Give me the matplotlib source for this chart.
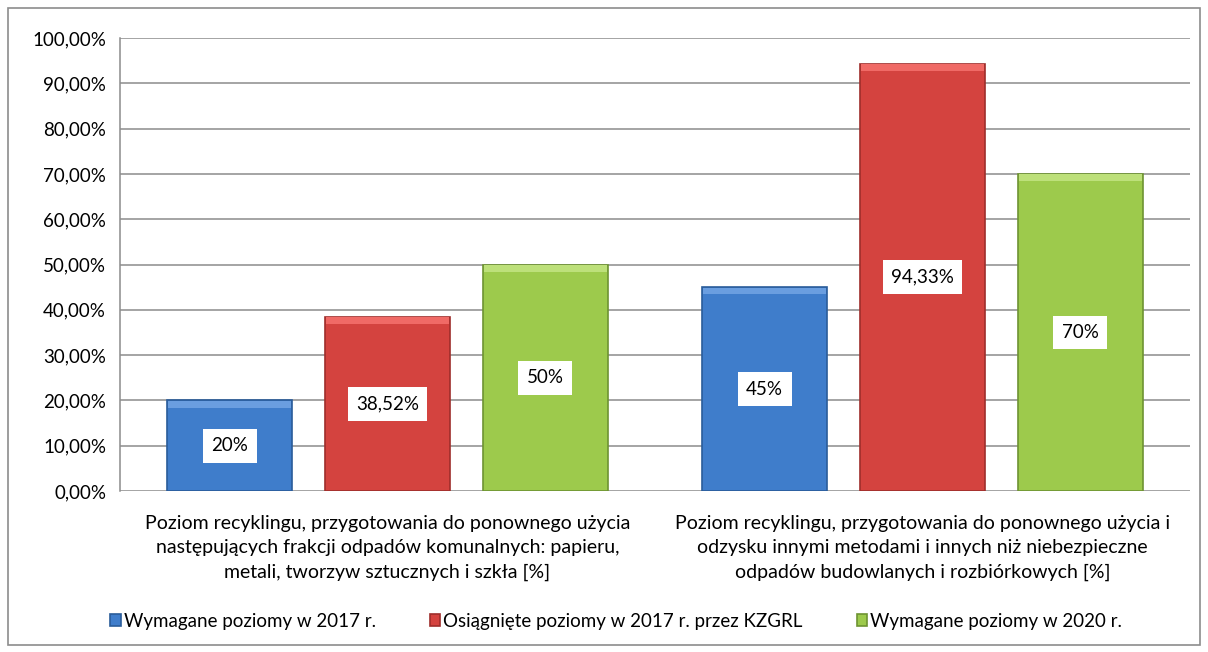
import matplotlib
matplotlib.use("Agg")
import matplotlib.pyplot as plt
import numpy as np
from matplotlib.patches import Rectangle

categories = [
    "Poziom recyklingu, przygotowania do ponownego użycia\nnastępujących frakcji odpadów komunalnych: papieru,\nmetali, tworzyw sztucznych i szkła [%]",
    "Poziom recyklingu, przygotowania do ponownego użycia i\nodzysku innymi metodami i innych niż niebezpieczne\nodpadów budowlanych i rozbiórkowych [%]",
]
series_names = [
    "Wymagane poziomy w 2017 r.",
    "Osiągnięte poziomy w 2017 r. przez KZGRL",
    "Wymagane poziomy w 2020 r.",
]
required_2017 = [20, 45]
achieved_2017 = [38.52, 94.33]
required_2020 = [50, 70]
bar_labels = [["20%", "45%"], ["38,52%", "94,33%"], ["50%", "70%"]]
y_ticks = [0, 10, 20, 30, 40, 50, 60, 70, 80, 90, 100]

colors = ["#3F7DCB", "#D4433F", "#9DCA4C"]
edges = ["#2A5C9A", "#9E2E2B", "#6E9332"]
tops = ["#6A9EE0", "#F06A66", "#BDE07A"]

plt.rcParams["font.family"] = ["Lato", "DejaVu Sans"]

fig = plt.figure(figsize=(12.08, 6.52), dpi=100)
ax = fig.add_axes([120 / 1208, 1 - 491 / 652, 1070 / 1208, 453 / 652])

x = np.arange(len(categories))
width = 0.234
step = 0.295
values = [required_2017, achieved_2017, required_2020]
for i, (vals, name) in enumerate(zip(values, series_names)):
    pos = x + (i - 1) * step
    bars = ax.bar(pos, vals, width, color=colors[i], edgecolor=edges[i],
                  linewidth=1.2, label=name, zorder=3)
    # light top band for the bevel look
    ax.bar(pos, [1.5] * len(vals), width * 0.98, bottom=[v - 1.6 for v in vals],
           color=tops[i], linewidth=0, zorder=4)
    for b, lab in zip(bars, bar_labels[i]):
        ax.text(b.get_x() + b.get_width() / 2, b.get_height() / 2, lab,
                ha="center", va="center", fontsize=13.5, zorder=5,
                bbox=dict(boxstyle="square,pad=0.45", fc="white", ec="none"))

ax.set_xlim(-0.5, 1.5)
ax.set_ylim(0, 100)
ax.set_yticks(y_ticks)
ax.set_yticklabels([f"{t},00%" for t in y_ticks], fontsize=13.5)
ax.yaxis.grid(True, color="#8C8C8C", linewidth=1.1, zorder=0)
ax.set_axisbelow(True)
ax.tick_params(axis="y", length=0, pad=10)
ax.set_xticks(x)
ax.set_xticklabels(categories, fontsize=14, linespacing=1.55)
ax.tick_params(axis="x", length=0, pad=17)
for s in ["top", "right", "bottom"]:
    ax.spines[s].set_visible(False)
ax.spines["left"].set_color("#8C8C8C")
ax.spines["left"].set_linewidth(1.1)

fig.legend(loc="center", bbox_to_anchor=(0.51, 1 - 621 / 652), ncol=3,
           frameon=False, fontsize=13.5, handlelength=0.55, handleheight=0.55,
           handletextpad=0.15, columnspacing=2.9)

fig.patches.append(Rectangle((8 / 1208, 1 - 645 / 652), 1192 / 1208, 637 / 652,
                             transform=fig.transFigure, fill=False,
                             edgecolor="#8C8C8C", linewidth=1.2))

fig.savefig("out.png", dpi=100)
